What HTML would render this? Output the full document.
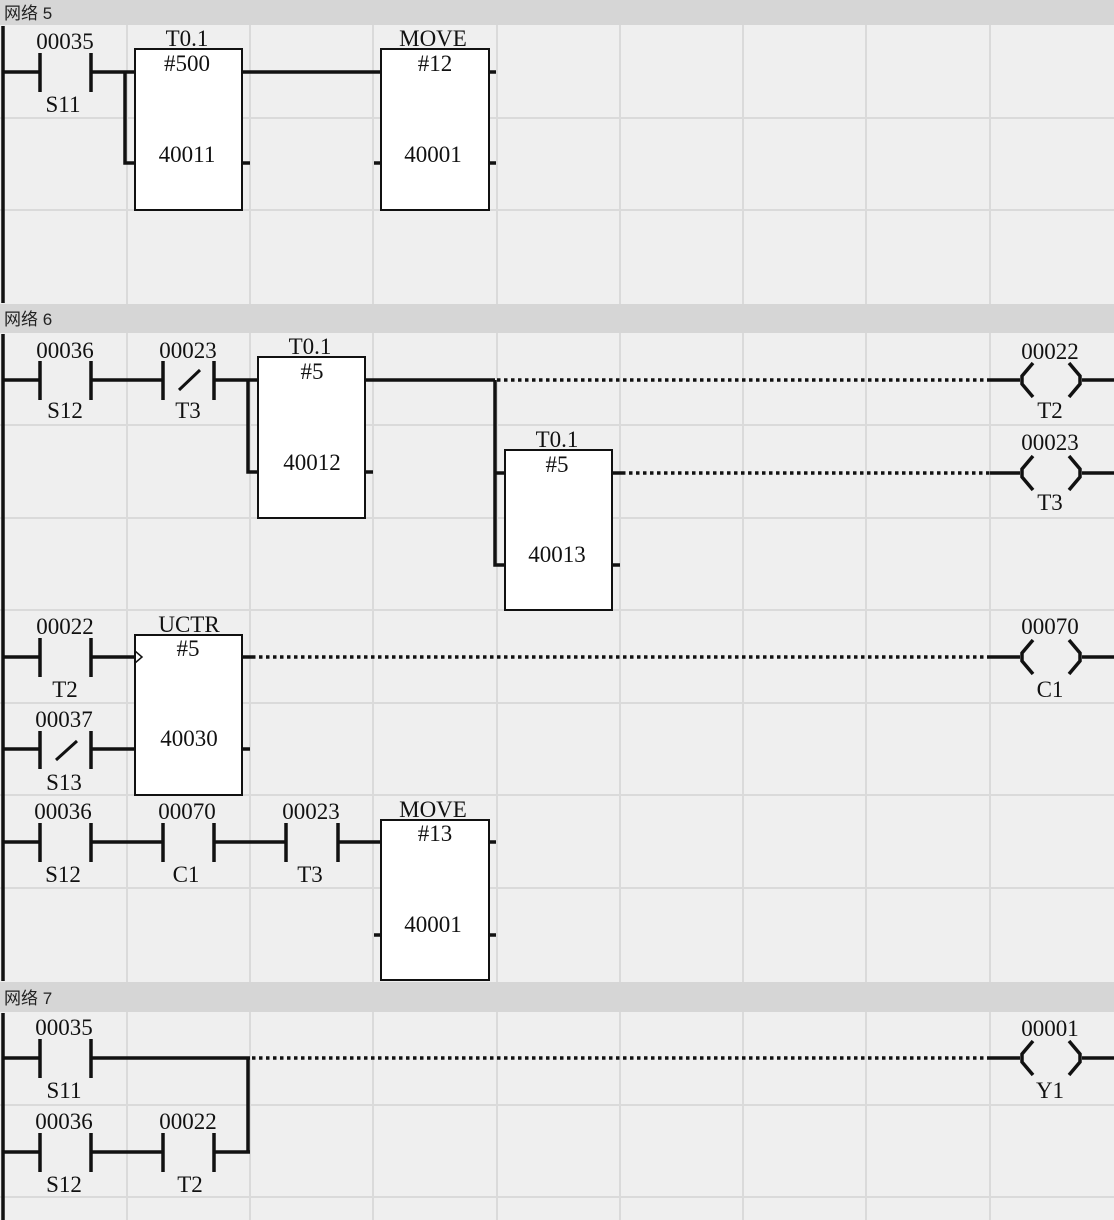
<!DOCTYPE html>
<html><head><meta charset="utf-8"><style>
html,body{margin:0;padding:0;background:#efefef;}
svg{display:block;}
text{font-family:"Liberation Serif",serif;font-size:23px;fill:#111;text-anchor:middle;}
.h{font-family:"Liberation Sans","Noto Sans CJK SC",sans-serif;font-size:17px;text-anchor:start;fill:#222;}
.w{stroke:#111;stroke-width:3.5;fill:none;}
.d{stroke:#111;stroke-width:3.5;stroke-dasharray:3.5 3.5;fill:none;}
.b{stroke:#111;stroke-width:2;fill:#fff;}
.g{stroke:#dadada;stroke-width:2;}
</style></head><body>
<svg width="1114" height="1220" viewBox="0 0 1114 1220" xmlns="http://www.w3.org/2000/svg">
<rect width="1114" height="1220" fill="#efefef"/>
<!-- grid verticals -->
<g class="g">
<line x1="127" y1="0" x2="127" y2="1220"/><line x1="250" y1="0" x2="250" y2="1220"/>
<line x1="373" y1="0" x2="373" y2="1220"/><line x1="497" y1="0" x2="497" y2="1220"/>
<line x1="620" y1="0" x2="620" y2="1220"/><line x1="743" y1="0" x2="743" y2="1220"/>
<line x1="866" y1="0" x2="866" y2="1220"/><line x1="990" y1="0" x2="990" y2="1220"/>
<line x1="0" y1="118" x2="1114" y2="118"/><line x1="0" y1="210" x2="1114" y2="210"/>
<line x1="0" y1="425" x2="1114" y2="425"/><line x1="0" y1="518" x2="1114" y2="518"/>
<line x1="0" y1="610" x2="1114" y2="610"/><line x1="0" y1="703" x2="1114" y2="703"/>
<line x1="0" y1="795" x2="1114" y2="795"/><line x1="0" y1="888" x2="1114" y2="888"/>
<line x1="0" y1="1105" x2="1114" y2="1105"/><line x1="0" y1="1197" x2="1114" y2="1197"/>
</g>
<!-- headers -->
<rect x="0" y="0" width="1114" height="25" fill="#d6d6d6"/>
<rect x="0" y="304" width="1114" height="29" fill="#d6d6d6"/>
<rect x="0" y="982" width="1114" height="30" fill="#d6d6d6"/>
<text class="h" x="4" y="19">网络 5</text>
<text class="h" x="4" y="325">网络 6</text>
<text class="h" x="4" y="1004">网络 7</text>
<!-- power rails -->
<line class="w" x1="3" y1="26" x2="3" y2="303"/>
<line class="w" x1="3" y1="334" x2="3" y2="981"/>
<line class="w" x1="3" y1="1013" x2="3" y2="1220"/>

<!-- NETWORK 5 -->
<g>
<line class="w" x1="3" y1="72" x2="40" y2="72"/>
<line class="w" x1="40" y1="53" x2="40" y2="92"/><line class="w" x1="91" y1="53" x2="91" y2="92"/>
<text x="65" y="49">00035</text><text x="63" y="112">S11</text>
<path class="w" d="M91 72 H135 M125 72 V163 H135"/>
<rect class="b" x="135" y="49" width="107" height="161"/>
<text x="187" y="46">T0.1</text><text x="187" y="71">#500</text><text x="187" y="162">40011</text>
<line class="w" x1="242" y1="163" x2="250" y2="163"/>
<line class="w" x1="242" y1="72" x2="381" y2="72"/>
<rect class="b" x="381" y="49" width="108" height="161"/>
<text x="433" y="46">MOVE</text><text x="435" y="71">#12</text><text x="433" y="162">40001</text>
<line class="w" x1="374" y1="163" x2="381" y2="163"/>
<line class="w" x1="489" y1="72" x2="496" y2="72"/><line class="w" x1="489" y1="163" x2="496" y2="163"/>
</g>

<!-- NETWORK 6 rung 1 -->
<g>
<line class="w" x1="3" y1="380" x2="40" y2="380"/>
<line class="w" x1="40" y1="361" x2="40" y2="400"/><line class="w" x1="91" y1="361" x2="91" y2="400"/>
<text x="65" y="358">00036</text><text x="65" y="418">S12</text>
<line class="w" x1="91" y1="380" x2="163" y2="380"/>
<line class="w" x1="163" y1="361" x2="163" y2="400"/><line class="w" x1="214" y1="361" x2="214" y2="400"/>
<line x1="179" y1="390" x2="200" y2="370" stroke="#111" stroke-width="3"/>
<text x="188" y="358">00023</text><text x="188" y="418">T3</text>
<path class="w" d="M214 380 H258 M248 380 V472 H258"/>
<rect class="b" x="258" y="357" width="107" height="161"/>
<text x="310" y="354">T0.1</text><text x="312" y="379">#5</text><text x="312" y="470">40012</text>
<line class="w" x1="365" y1="472" x2="373" y2="472"/>
<line class="w" x1="365" y1="380" x2="495" y2="380"/>
<path class="w" d="M495 380 V565 H505 M495 473 H505"/>
<line class="d" x1="497" y1="380" x2="990" y2="380"/>
<rect class="b" x="505" y="450" width="107" height="160"/>
<text x="557" y="447">T0.1</text><text x="557" y="472">#5</text><text x="557" y="562">40013</text>
<line class="w" x1="612" y1="565" x2="620" y2="565"/>
<line class="w" x1="612" y1="473" x2="622" y2="473"/>
<line class="d" x1="622" y1="473" x2="990" y2="473"/>
</g>
<!-- coils -->
<g>
<path class="w" d="M990 380 H1020 M1033 363 L1022 376 V384 L1033 397 M1069 363 L1080 376 V384 L1069 397 M1082 380 H1114"/>
<text x="1050" y="359">00022</text><text x="1050" y="418">T2</text>
<path class="w" d="M990 473 H1020 M1033 456 L1022 469 V477 L1033 490 M1069 456 L1080 469 V477 L1069 490 M1082 473 H1114"/>
<text x="1050" y="450">00023</text><text x="1050" y="510">T3</text>
<path class="w" d="M990 657 H1020 M1033 640 L1022 653 V661 L1033 674 M1069 640 L1080 653 V661 L1069 674 M1082 657 H1114"/>
<text x="1050" y="634">00070</text><text x="1050" y="697">C1</text>
<path class="w" d="M990 1058 H1020 M1033 1041 L1022 1054 V1062 L1033 1075 M1069 1041 L1080 1054 V1062 L1069 1075 M1082 1058 H1114"/>
<text x="1050" y="1036">00001</text><text x="1050" y="1098">Y1</text>
</g>

<!-- NETWORK 6 UCTR -->
<g>
<line class="w" x1="3" y1="657" x2="40" y2="657"/>
<line class="w" x1="40" y1="638" x2="40" y2="677"/><line class="w" x1="91" y1="638" x2="91" y2="677"/>
<text x="65" y="634">00022</text><text x="65" y="697">T2</text>
<line class="w" x1="91" y1="657" x2="135" y2="657"/>
<line class="w" x1="3" y1="749" x2="40" y2="749"/>
<line class="w" x1="40" y1="731" x2="40" y2="769"/><line class="w" x1="91" y1="731" x2="91" y2="769"/>
<line x1="56" y1="760" x2="77" y2="741" stroke="#111" stroke-width="3"/>
<text x="64" y="727">00037</text><text x="64" y="790">S13</text>
<line class="w" x1="91" y1="749" x2="135" y2="749"/>
<rect class="b" x="135" y="635" width="107" height="160"/>
<path d="M135 651 L142 657 L135 663" stroke="#111" stroke-width="1.5" fill="none"/>
<text x="189" y="632">UCTR</text><text x="188" y="656">#5</text><text x="189" y="746">40030</text>
<line class="w" x1="242" y1="749" x2="250" y2="749"/>
<line class="w" x1="242" y1="657" x2="252" y2="657"/>
<line class="d" x1="252" y1="657" x2="990" y2="657"/>
</g>

<!-- NETWORK 6 MOVE -->
<g>
<line class="w" x1="3" y1="842" x2="40" y2="842"/>
<line class="w" x1="40" y1="823" x2="40" y2="862"/><line class="w" x1="91" y1="823" x2="91" y2="862"/>
<text x="63" y="819">00036</text><text x="63" y="882">S12</text>
<line class="w" x1="91" y1="842" x2="163" y2="842"/>
<line class="w" x1="163" y1="823" x2="163" y2="862"/><line class="w" x1="214" y1="823" x2="214" y2="862"/>
<text x="187" y="819">00070</text><text x="186" y="882">C1</text>
<line class="w" x1="214" y1="842" x2="286" y2="842"/>
<line class="w" x1="286" y1="823" x2="286" y2="862"/><line class="w" x1="338" y1="823" x2="338" y2="862"/>
<text x="311" y="819">00023</text><text x="310" y="882">T3</text>
<line class="w" x1="338" y1="842" x2="381" y2="842"/>
<rect class="b" x="381" y="820" width="108" height="160"/>
<text x="433" y="817">MOVE</text><text x="435" y="841">#13</text><text x="433" y="932">40001</text>
<line class="w" x1="374" y1="935" x2="381" y2="935"/>
<line class="w" x1="489" y1="842" x2="496" y2="842"/><line class="w" x1="489" y1="935" x2="496" y2="935"/>
</g>

<!-- NETWORK 7 -->
<g>
<line class="w" x1="3" y1="1058" x2="40" y2="1058"/>
<line class="w" x1="40" y1="1039" x2="40" y2="1078"/><line class="w" x1="91" y1="1039" x2="91" y2="1078"/>
<text x="64" y="1035">00035</text><text x="64" y="1098">S11</text>
<line class="w" x1="91" y1="1058" x2="250" y2="1058"/>
<line class="w" x1="248" y1="1058" x2="248" y2="1152"/>
<line class="d" x1="252" y1="1058" x2="990" y2="1058"/>
<line class="w" x1="3" y1="1152" x2="40" y2="1152"/>
<line class="w" x1="40" y1="1133" x2="40" y2="1172"/><line class="w" x1="91" y1="1133" x2="91" y2="1172"/>
<text x="64" y="1129">00036</text><text x="64" y="1192">S12</text>
<line class="w" x1="91" y1="1152" x2="163" y2="1152"/>
<line class="w" x1="163" y1="1133" x2="163" y2="1172"/><line class="w" x1="214" y1="1133" x2="214" y2="1172"/>
<text x="188" y="1129">00022</text><text x="190" y="1192">T2</text>
<line class="w" x1="214" y1="1152" x2="250" y2="1152"/>
</g>
</svg>
</body></html>
